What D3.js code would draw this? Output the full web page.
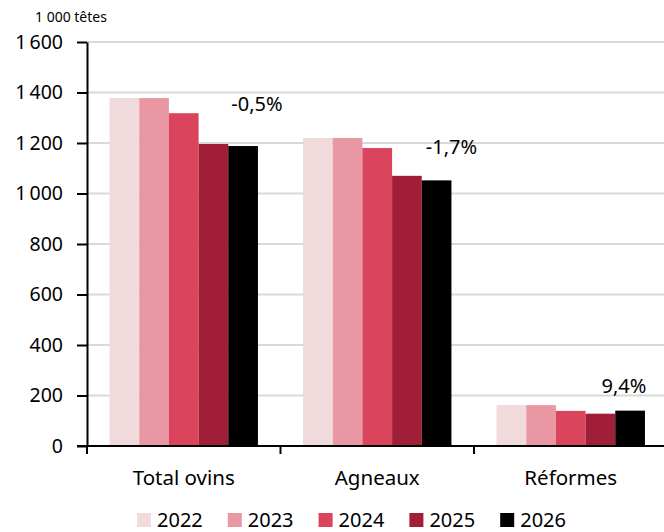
<!DOCTYPE html>
<html>
<head>
<meta charset="utf-8">
<script src="https://cdn.jsdelivr.net/npm/d3@7"></script>
<style>
  html, body { margin: 0; padding: 0; background: #fff; }
  svg { display: block; font-family: "Noto Sans", "Open Sans", sans-serif; }
</style>
</head>
<body>
<svg id="chart" width="664" height="532"></svg>
<script>
// Abattages d'ovins, milliers de têtes
const categories = ["Total ovins", "Agneaux", "Réformes"];
const years = ["2022", "2023", "2024", "2025", "2026"];
const values2022 = [1378, 1220, 162];
const values2023 = [1378, 1220, 162];
const values2024 = [1318, 1180, 139];
const values2025 = [1196, 1070, 128];
const values2026 = [1188, 1052, 140];
const changeLabels = ["-0,5%", "-1,7%", "9,4%"];
const yTicks = [0, 200, 400, 600, 800, 1000, 1200, 1400, 1600];
const unitLabel = "1 000 têtes";

const colors = ["#f0dadb", "#ea97a4", "#da455d", "#a01f37", "#000000"];
const series = [values2022, values2023, values2024, values2025, values2026];

const svg = d3.select("#chart");
const margin = { left: 87, right: -3.5, top: 42, bottom: 86 };
const W = 664, H = 532;

const x0 = d3.scaleBand().domain(categories)
  .range([margin.left, W - margin.right]).paddingInner(0).paddingOuter(0);
const x1 = d3.scaleBand().domain(years)
  .range([0, x0.bandwidth()]).paddingOuter(0.76).paddingInner(0);
const y = d3.scaleLinear().domain([0, 1600]).range([H - margin.bottom, margin.top]);

// grid lines
svg.append("g").selectAll("line").data(yTicks.filter(d => d > 0)).join("line")
  .attr("x1", margin.left).attr("x2", W)
  .attr("y1", d => y(d)).attr("y2", d => y(d))
  .attr("stroke", "#d9d9d9").attr("stroke-width", 2);

// bars
const groups = svg.append("g").selectAll("g").data(categories).join("g")
  .attr("transform", d => `translate(${x0(d)},0)`);
groups.selectAll("rect")
  .data((c, i) => years.map((yr, k) => ({ yr, k, v: series[k][i] })))
  .join("rect")
  .attr("x", d => x1(d.yr))
  .attr("width", x1.bandwidth())
  .attr("y", d => y(d.v))
  .attr("height", d => y(0) - y(d.v))
  .attr("fill", d => colors[d.k]);

// y axis
const yAxis = svg.append("g").attr("transform", `translate(${margin.left},0)`)
  .call(d3.axisLeft(y).tickValues(yTicks).tickSizeOuter(0).tickSizeInner(10).tickPadding(14)
    .tickFormat(d => d3.format(",")(d).replace(",", "\u202f")));
yAxis.select(".domain").attr("stroke", "#000").attr("stroke-width", 2);
yAxis.selectAll(".tick line").attr("stroke", "#000").attr("stroke-width", 2);
yAxis.selectAll("text").attr("font-size", 19.5).attr("fill", "#000")
  .attr("font-family", "'Noto Sans', sans-serif");

// x axis
const xAxisG = svg.append("g").attr("transform", `translate(0,${y(0)})`);
xAxisG.append("line").attr("x1", margin.left - 10).attr("x2", W)
  .attr("stroke", "#000").attr("stroke-width", 2);
xAxisG.selectAll("line.tk").data(categories).join("line").attr("class", "tk")
  .attr("x1", d => x0(d)).attr("x2", d => x0(d))
  .attr("y1", 0).attr("y2", 8).attr("stroke", "#000").attr("stroke-width", 2);
xAxisG.selectAll("text").data(categories).join("text")
  .attr("x", d => x0(d) + x0.bandwidth() / 2).attr("y", 39)
  .attr("text-anchor", "middle").attr("font-size", 20.5).attr("fill", "#000")
  .text(d => d);

// unit label
svg.append("text").attr("x", 35).attr("y", 22).attr("font-size", 14)
  .attr("fill", "#000").text(unitLabel);

// change annotations near the 2026 bar
const annDx = [-1, 0, -21];
const annDy = [-35, -26, -18];
svg.append("g").selectAll("text").data(categories).join("text")
  .attr("x", (d, i) => x0(d) + x1("2026") + x1.bandwidth() + annDx[i])
  .attr("y", (d, i) => y(values2026[i]) + annDy[i])
  .attr("text-anchor", "middle").attr("font-size", 20).attr("fill", "#000")
  .text((d, i) => changeLabels[i]);

// legend
const legend = svg.append("g").attr("transform", "translate(137,513)");
const item = legend.selectAll("g").data(years).join("g")
  .attr("transform", (d, i) => `translate(${i * 90.8},0)`);
item.append("rect").attr("width", 14).attr("height", 14).attr("fill", (d, i) => colors[i]);
item.append("text").attr("x", 20).attr("y", 14).attr("font-size", 20).attr("fill", "#000")
  .text(d => d);
</script>
</body>
</html>
